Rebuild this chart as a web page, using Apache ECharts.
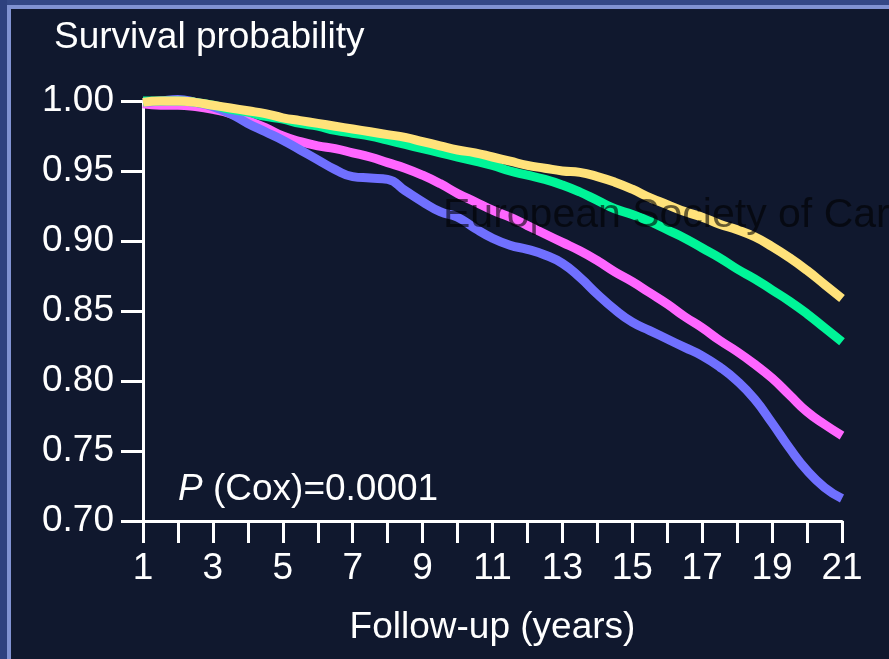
<!DOCTYPE html>
<html>
<head>
<meta charset="utf-8">
<title>Survival probability</title>
<script src="https://cdn.jsdelivr.net/npm/echarts@6/dist/echarts.min.js"></script>
<style>
  html, body { margin: 0; padding: 0; background: #10182e; }
  #chart { width: 889px; height: 659px; }
</style>
</head>
<body>
<div id="chart"></div>
<script>
// Follow-up time points (years)
const years = [1, 1.5, 2, 2.5, 3, 3.5, 4, 4.5, 5, 5.5, 6, 6.5, 7, 7.5, 8, 8.5, 9, 9.5, 10, 10.5,
  11, 11.5, 12, 12.5, 13, 13.5, 14, 14.5, 15, 15.5, 16, 16.5, 17, 17.5, 18, 18.5, 19, 19.5, 20, 20.5, 21];

// Survival probability curves
const yellowCurve = [0.999, 1.000, 1.000, 0.999, 0.997, 0.995, 0.993, 0.991, 0.988, 0.986, 0.984, 0.982,
  0.980, 0.978, 0.976, 0.974, 0.971, 0.968, 0.965, 0.963, 0.960, 0.957, 0.954, 0.952, 0.950, 0.949,
  0.946, 0.942, 0.937, 0.931, 0.926, 0.921, 0.917, 0.912, 0.908, 0.903, 0.896, 0.888, 0.879, 0.869, 0.859];

const greenCurve = [1.000, 1.000, 1.000, 0.999, 0.997, 0.994, 0.992, 0.989, 0.987, 0.984, 0.982, 0.979,
  0.977, 0.975, 0.972, 0.969, 0.966, 0.963, 0.960, 0.957, 0.954, 0.950, 0.947, 0.944, 0.940, 0.935,
  0.929, 0.923, 0.919, 0.914, 0.908, 0.902, 0.895, 0.888, 0.880, 0.873, 0.865, 0.857, 0.848, 0.838, 0.828];

const magentaCurve = [0.998, 0.997, 0.997, 0.996, 0.994, 0.991, 0.986, 0.981, 0.975, 0.971, 0.968, 0.966,
  0.963, 0.960, 0.956, 0.952, 0.947, 0.941, 0.934, 0.928, 0.922, 0.917, 0.911, 0.905, 0.899, 0.893,
  0.886, 0.878, 0.871, 0.863, 0.855, 0.846, 0.838, 0.829, 0.821, 0.812, 0.802, 0.790, 0.778, 0.769, 0.761];

const blueCurve = [0.999, 1.000, 1.001, 0.999, 0.996, 0.991, 0.984, 0.978, 0.972, 0.965, 0.958, 0.951,
  0.946, 0.945, 0.944, 0.936, 0.928, 0.921, 0.917, 0.909, 0.902, 0.897, 0.894, 0.890, 0.884, 0.874,
  0.862, 0.851, 0.842, 0.836, 0.830, 0.824, 0.818, 0.810, 0.800, 0.787, 0.770, 0.752, 0.736, 0.724, 0.716];

// Axis ticks
const xTickValues = [1, 3, 5, 7, 9, 11, 13, 15, 17, 19, 21];
const yTickValues = [0.70, 0.75, 0.80, 0.85, 0.90, 0.95, 1.00];

const FONT = '"Liberation Sans", Arial, Helvetica, sans-serif';
const FG = '#ffffff';
const FS = 37;

function pairs(values) {
  return years.map((x, i) => [x, values[i]]);
}

function curve(name, values, color) {
  return {
    name: name,
    type: 'line',
    data: pairs(values),
    smooth: 0.5,
    showSymbol: false,
    symbol: 'none',
    clip: false,
    lineStyle: { color: color, width: 9, cap: 'butt', join: 'round' },
    emphasis: { disabled: true },
    silent: true
  };
}

const chart = echarts.init(document.getElementById('chart'), null, { renderer: 'canvas' });

chart.setOption({
  backgroundColor: '#10182e',
  animation: false,
  grid: { left: 143, right: 47, top: 101, bottom: 138, containLabel: false },
  xAxis: {
    type: 'value',
    min: 1,
    max: 21,
    interval: 1,
    name: 'Follow-up (years)',
    nameLocation: 'middle',
    nameGap: 88,
    nameTextStyle: { color: FG, fontFamily: FONT, fontSize: FS },
    axisLine: { show: true, onZero: false, lineStyle: { color: FG, width: 3 } },
    axisTick: { show: true, length: 22, inside: false, lineStyle: { color: FG, width: 3 } },
    axisLabel: {
      color: FG, fontFamily: FONT, fontSize: FS, margin: 29,
      formatter: v => (xTickValues.indexOf(v) >= 0 ? String(v) : '')
    },
    splitLine: { show: false }
  },
  yAxis: {
    type: 'value',
    min: 0.70,
    max: 1.00,
    interval: 0.05,
    axisLine: { show: true, onZero: false, lineStyle: { color: FG, width: 3 } },
    axisTick: { show: true, length: 22, inside: false, lineStyle: { color: FG, width: 3 } },
    axisLabel: {
      color: FG, fontFamily: FONT, fontSize: FS, margin: 29,
      formatter: v => {
        const hit = yTickValues.find(t => Math.abs(t - v) < 1e-6);
        return hit !== undefined ? hit.toFixed(2) : '';
      }
    },
    splitLine: { show: false }
  },
  series: [
    curve('Group D', magentaCurve, '#ff66ff'),
    curve('Group C', blueCurve, '#7070ff'),
    curve('Group B', greenCurve, '#00f598'),
    curve('Group A', yellowCurve, '#ffe27a')
  ],
  graphic: [
    // panel frame along the top and left edges
    { type: 'rect', left: 0, top: 0, shape: { width: 889, height: 5 }, style: { fill: '#344886' }, z: 200 },
    { type: 'rect', left: 0, top: 0, shape: { width: 7, height: 659 }, style: { fill: '#2e417f' }, z: 200 },
    { type: 'rect', left: 7, top: 5, shape: { width: 882, height: 4 }, style: { fill: '#8092d2' }, z: 201 },
    { type: 'rect', left: 7, top: 5, shape: { width: 4, height: 654 }, style: { fill: '#8092d2' }, z: 201 },
    // axis title
    {
      type: 'text', left: 54, top: 19, z: 150,
      style: { text: 'Survival probability', fill: FG, font: FS + 'px ' + FONT }
    },
    // test statistic
    {
      type: 'text', left: 178, top: 471, z: 150,
      style: {
        text: '{i|P} (Cox)=0.0001',
        fill: FG,
        font: FS + 'px ' + FONT,
        rich: {
          i: { fontStyle: 'italic', fontFamily: FONT, fontSize: FS, fill: FG, color: FG }
        }
      }
    },
    // society watermark overlaid on the curves
    {
      type: 'text', left: 443, top: 195, z: 300,
      style: { text: 'European Society of Cardiology', fill: 'rgba(0,0,0,0.6)', font: '41px ' + FONT }
    }
  ]
});
</script>
</body>
</html>
